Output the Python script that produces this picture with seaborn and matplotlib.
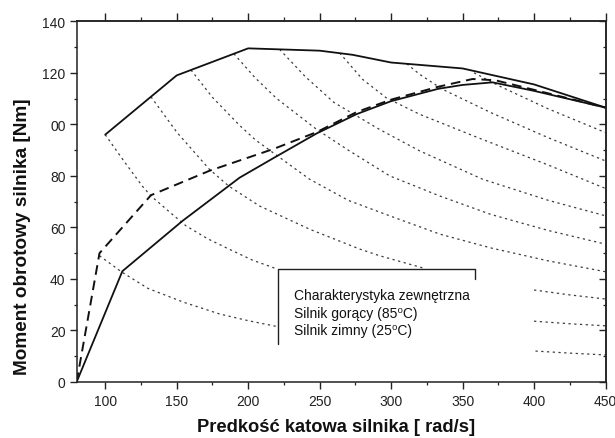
import matplotlib
matplotlib.use("Agg")
import matplotlib.pyplot as plt
from matplotlib.ticker import MultipleLocator, FixedLocator
import seaborn as sns

sns.set_theme(style="ticks")
plt.rcParams["font.family"] = ["Liberation Sans", "DejaVu Sans"]

# --- torque-speed characteristics [rad/s] -> [Nm] ---
ext_w = [100, 150, 200, 250, 273, 300, 350, 400, 450]
ext_t = [96, 119, 129.5, 128.6, 127, 124, 121.7, 115.5, 106.5]

hot_w = [80, 96, 132, 173, 218, 248, 276, 300, 333, 357, 373, 400, 450]
hot_t = [0, 50, 72.5, 82, 90.5, 97, 104.8, 109.6, 114.6, 117.6, 117.1, 113.4, 106.5]

cold_w = [80, 112, 154, 194, 218, 248, 276, 300, 333, 350, 371, 400, 450]
cold_t = [0, 43, 62.5, 79.3, 87, 96.5, 104, 109, 113.8, 115.3, 116.3, 113, 106.5]

# --- family of dotted operating curves ---
iso0_w = [96, 111.5, 130, 154.6, 180, 200, 220.5]
iso0_t = [49, 42.7, 36.3, 31, 26.4, 23.8, 21.5]
iso0b_w = [401, 425, 450]
iso0b_t = [12, 11.2, 10.5]

iso1_w = [100, 113, 126, 132, 145, 156.5, 172, 186.5, 203, 220.5]
iso1_t = [96, 85.8, 76, 72.2, 66, 60.6, 55.5, 51.6, 47.3, 43.8]
iso1b_w = [400, 425, 450]
iso1b_t = [23.6, 22.6, 21.8]

iso2_w = [132, 150, 172.8, 186.5, 208, 243, 278, 292, 322]
iso2_t = [110.7, 97, 82.6, 76, 68.3, 59.3, 51.6, 49, 44.3]
iso2b_w = [400, 425, 450]
iso2b_t = [35.7, 33.8, 32.2]

iso3_w = [160, 175, 194, 205, 243, 270, 299, 334, 370, 410, 450]
iso3_t = [121.1, 110.5, 99.6, 94, 78.7, 70.5, 64.5, 57.4, 52, 47, 42.8]

iso4_w = [190, 205, 220, 248, 270, 299, 334, 370, 410, 450]
iso4_t = [127.4, 118, 110, 98, 90, 80, 72.2, 65, 58.8, 53.5]

iso5_w = [222, 240, 260, 292, 320, 364, 410, 450]
iso5_t = [129.1, 118.5, 108.5, 98, 89.7, 78.7, 70.5, 64.5]

iso6_w = [264, 280, 296.6, 320, 360, 410, 450]
iso6_t = [127.7, 117.5, 110.3, 103.9, 95, 84.2, 75.1]

iso7_w = [311, 320, 336, 370, 410, 450]
iso7_t = [123.5, 119.4, 113.6, 104.5, 94.8, 85.8]

iso8_w = [358, 376, 410, 450]
iso8_t = [120, 114.8, 106, 96.8]

x_ticks = [100, 150, 200, 250, 300, 350, 400, 450]
y_ticks = [0, 20, 40, 60, 80, 100, 120, 140]
y_tick_labels = ["0", "20", "40", "60", "80", "00", "120", "140"]

legend_lines = [
    "Charakterystyka zewnętrzna",
    "Silnik gorący (85\u2070C)",
    "Silnik zimny (25\u2070C)",
]

fig = plt.figure(figsize=(6.15, 4.39), dpi=100)
ax = fig.add_axes([0.1246, 0.1276, 0.8600, 0.8216])


def curve(w, t, **kw):
    sns.lineplot(x=w, y=t, sort=False, estimator=None, ax=ax, **kw)


dot_style = dict(color="#3c3c3c", linewidth=0.9, linestyle=(0, (1.8, 2.8)))
for w, t in [(iso0_w, iso0_t), (iso0b_w, iso0b_t), (iso1_w, iso1_t),
             (iso1b_w, iso1b_t), (iso2_w, iso2_t), (iso2b_w, iso2b_t),
             (iso3_w, iso3_t), (iso4_w, iso4_t), (iso5_w, iso5_t),
             (iso6_w, iso6_t), (iso7_w, iso7_t), (iso8_w, iso8_t)]:
    curve(w, t, **dot_style)

curve(ext_w, ext_t, color="#111111", linewidth=1.3)
curve(cold_w, cold_t, color="#111111", linewidth=1.3)
curve(hot_w, hot_t, color="#111111", linewidth=1.4, linestyle=(0, (5, 3)))

ax.set_xlim(80, 450)
ax.set_ylim(0, 140)

# legend frame drawn as an open bracket
box_l, box_r, box_t, box_b, box_tick = 220.8, 358.7, 43.8, 14.7, 39.8
ax.plot([box_l, box_l, box_r, box_r], [box_b, box_t, box_t, box_tick],
        color="#222222", linewidth=1.0, clip_on=False)
for i, txt in enumerate(legend_lines):
    ax.text(232, 33.6 - i * 6.7, txt, fontsize=10, color="#111111",
            ha="left", va="center")

# axes decoration
ax.xaxis.set_major_locator(FixedLocator(x_ticks))
ax.xaxis.set_minor_locator(MultipleLocator(25))
ax.xaxis.set_ticks_position("bottom")
ax.set_yticks(y_ticks)
ax.set_yticklabels(y_tick_labels)
ax.yaxis.set_minor_locator(MultipleLocator(10))
ax.yaxis.set_ticks_position("left")
ax.tick_params(axis="x", which="both", direction="out",
               labelsize=10, labelcolor="#222222", color="#222222", pad=4)
ax.tick_params(axis="y", which="both", direction="out",
               labelsize=10, labelcolor="#222222", color="#222222", pad=3)
ax.tick_params(which="major", length=5, width=1.0)
ax.tick_params(which="minor", length=2.5, width=0.9)

# top axis: outward ticks, no labels
top = ax.secondary_xaxis("top")
top.set_xticks(x_ticks)
top.xaxis.set_minor_locator(MultipleLocator(25))
top.tick_params(axis="x", which="both", direction="out", labeltop=False,
                color="#222222")
top.tick_params(which="major", length=5.5, width=1.0)
top.tick_params(which="minor", length=3, width=0.9)
top.spines["top"].set_linewidth(1.1)
top.spines["top"].set_color("#222222")

# right axis: inward ticks, no labels
right = ax.secondary_yaxis("right")
right.set_yticks(y_ticks)
right.yaxis.set_minor_locator(MultipleLocator(10))
right.tick_params(axis="y", which="both", direction="in", labelright=False,
                  color="#222222")
right.tick_params(which="major", length=5, width=1.0)
right.tick_params(which="minor", length=2.5, width=0.9)
right.spines["right"].set_linewidth(1.1)
right.spines["right"].set_color("#222222")

for s in ax.spines.values():
    s.set_linewidth(1.1)
    s.set_color("#222222")
    s.set_visible(True)
ax.set_xlabel("")
ax.set_ylabel("")
ax.grid(False)

fig.text(0.037, 0.46, "Moment obrotowy silnika [Nm]", rotation=90,
         fontsize=13.7, fontweight="bold", ha="center", va="center",
         color="#111111")
fig.text(0.547, 0.006, "Predkość katowa silnika [ rad/s]", fontsize=13.2,
         fontweight="bold", ha="center", va="bottom", color="#111111")

fig.savefig("out.png", dpi=100, facecolor="white")
